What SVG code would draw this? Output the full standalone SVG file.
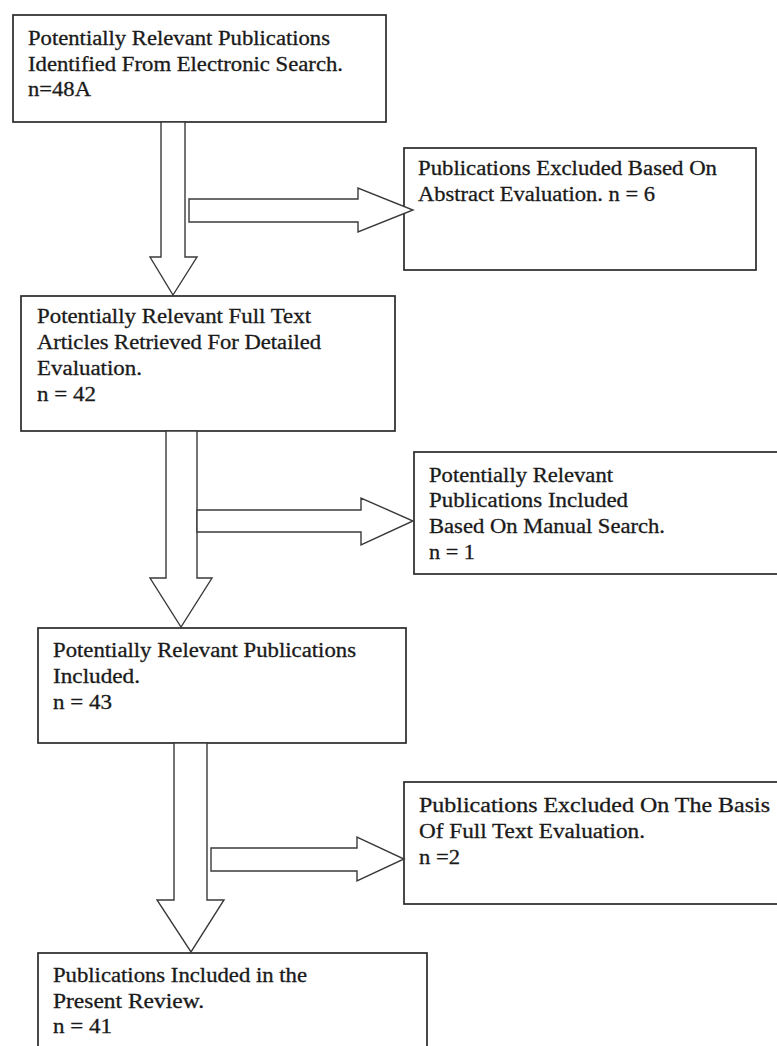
<svg xmlns="http://www.w3.org/2000/svg" width="777" height="1046" viewBox="0 0 777 1046">
<style>
.box{fill:#fff;stroke:#2a2a2a;stroke-width:1.7}
.arr{fill:#fff;stroke:#3a3a3a;stroke-width:1.4;stroke-linejoin:miter}
text{font-family:"Liberation Serif","Times New Roman",serif;font-size:20px;fill:#1a1a1a;stroke:#1a1a1a;stroke-width:0.3}
</style>
<rect width="777" height="1046" fill="#fff"/>
<g id="n1">
<rect class="box" x="13" y="15" width="373" height="107"/>
<text x="28" y="45" textLength="302" lengthAdjust="spacingAndGlyphs">Potentially Relevant Publications</text>
<text x="28" y="70.5" textLength="315" lengthAdjust="spacingAndGlyphs">Identified From Electronic Search.</text>
<text x="28" y="96" textLength="63" lengthAdjust="spacingAndGlyphs">n=48A</text>
</g>
<g id="n1b">
<rect class="box" x="404" y="148" width="352" height="122"/>
<text x="418" y="175" textLength="299" lengthAdjust="spacingAndGlyphs">Publications Excluded Based On</text>
<text x="418" y="201" textLength="237" lengthAdjust="spacingAndGlyphs">Abstract Evaluation. n = 6</text>
</g>
<g id="n2">
<rect class="box" x="21" y="296" width="374" height="135"/>
<text x="37" y="323" textLength="274" lengthAdjust="spacingAndGlyphs">Potentially Relevant Full Text</text>
<text x="37" y="349" textLength="284" lengthAdjust="spacingAndGlyphs">Articles Retrieved For Detailed</text>
<text x="37" y="375" textLength="105" lengthAdjust="spacingAndGlyphs">Evaluation.</text>
<text x="37" y="401" textLength="59" lengthAdjust="spacingAndGlyphs">n = 42</text>
</g>
<g id="n2b">
<rect class="box" x="414" y="452" width="380" height="122"/>
<text x="429" y="482" textLength="184" lengthAdjust="spacingAndGlyphs">Potentially Relevant</text>
<text x="429" y="507" textLength="199" lengthAdjust="spacingAndGlyphs">Publications Included</text>
<text x="429" y="533" textLength="236" lengthAdjust="spacingAndGlyphs">Based On Manual Search.</text>
<text x="429" y="559" textLength="46" lengthAdjust="spacingAndGlyphs">n = 1</text>
</g>
<g id="n3">
<rect class="box" x="38" y="628" width="368" height="115"/>
<text x="53" y="657" textLength="303" lengthAdjust="spacingAndGlyphs">Potentially Relevant Publications</text>
<text x="53" y="683" textLength="87" lengthAdjust="spacingAndGlyphs">Included.</text>
<text x="53" y="709" textLength="59" lengthAdjust="spacingAndGlyphs">n = 43</text>
</g>
<g id="n3b">
<rect class="box" x="404" y="782" width="390" height="122"/>
<text x="419" y="812" textLength="351" lengthAdjust="spacingAndGlyphs">Publications  Excluded  On The Basis</text>
<text x="419" y="838" textLength="226" lengthAdjust="spacingAndGlyphs">Of Full Text Evaluation.</text>
<text x="419" y="864" textLength="41" lengthAdjust="spacingAndGlyphs">n =2</text>
</g>
<g id="n4">
<rect class="box" x="38" y="953" width="389" height="110"/>
<text x="53" y="982" textLength="254" lengthAdjust="spacingAndGlyphs">Publications Included in the</text>
<text x="53" y="1008" textLength="151" lengthAdjust="spacingAndGlyphs">Present  Review.</text>
<text x="53" y="1033" textLength="59" lengthAdjust="spacingAndGlyphs">n = 41</text>
</g>
<g id="connectors">
<polygon class="arr" points="161,122 185,122 185,257 197,257 173,295 150,257 161,257"/>
<polygon class="arr" points="189,199 358,199 358,188 413,210 358,232 358,222 189,222"/>
<polygon class="arr" points="166,431 197,431 197,578 212,578 181,627 150,578 166,578"/>
<polygon class="arr" points="197,510 361,510 361,498 413,521 361,545 361,532 197,532"/>
<polygon class="arr" points="174,743 207,743 207,900 224,900 191,952 157,900 174,900"/>
<polygon class="arr" points="211,848 357,848 357,837 404,859 357,881 357,871 211,871"/>
</g>
</svg>
